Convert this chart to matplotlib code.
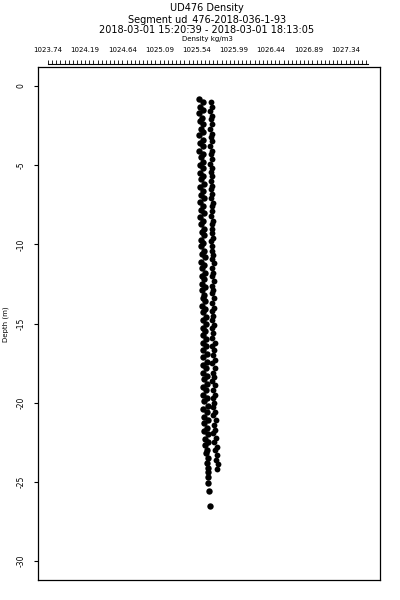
import matplotlib
matplotlib.use('Agg')
import matplotlib.pyplot as plt
import numpy as np

# left trace (dive)
depth_dn = [-0.8,-1.0,-1.3,-1.5,-1.7,-2.0,-2.2,-2.4,-2.7,-2.9,
            -3.1,-3.4,-3.6,-3.8,-4.1,-4.3,-4.5,-4.8,-5.0,-5.2,
            -5.5,-5.7,-5.9,-6.2,-6.4,-6.6,-6.9,-7.1,-7.3,-7.6,
            -7.8,-8.0,-8.3,-8.5,-8.7,-9.0,-9.2,-9.4,-9.7,-9.9,
            -10.1,-10.4,-10.6,-10.8,-11.1,-11.3,-11.5,-11.8,-12.0,-12.2,
            -12.5,-12.7,-12.9,-13.2,-13.4,-13.6,-13.9,-14.1,-14.3,-14.6,
            -14.8,-15.0,-15.3,-15.5,-15.7,-16.0,-16.2,-16.4,-16.7,-16.9,
            -17.1,-17.4,-17.6,-17.8,-18.1,-18.3,-18.5,-18.8,-19.0,-19.2,
            -19.5,-19.7,-19.9,-20.2,-20.4,-20.6,-20.9,-21.1,-21.3,-21.6,
            -21.8,-22.0,-22.3,-22.5,-22.7,-23.0,-23.2,-23.5,-23.8,-24.1,
            -24.4,-24.7,-25.1,-25.6,-26.5]
dens_dn = [1025.57,1025.61,1025.58,1025.62,1025.57,1025.60,1025.58,1025.62,1025.59,1025.61,
           1025.57,1025.61,1025.58,1025.62,1025.57,1025.61,1025.59,1025.62,1025.58,1025.61,
           1025.58,1025.62,1025.59,1025.63,1025.58,1025.62,1025.59,1025.63,1025.58,1025.62,
           1025.59,1025.63,1025.58,1025.62,1025.59,1025.63,1025.60,1025.63,1025.59,1025.62,
           1025.59,1025.63,1025.60,1025.64,1025.59,1025.63,1025.60,1025.64,1025.60,1025.63,
           1025.60,1025.64,1025.60,1025.63,1025.61,1025.64,1025.60,1025.64,1025.61,1025.65,
           1025.61,1025.65,1025.61,1025.64,1025.62,1025.65,1025.61,1025.65,1025.62,1025.66,
           1025.62,1025.66,1025.62,1025.65,1025.62,1025.66,1025.63,1025.66,1025.62,1025.65,
           1025.62,1025.66,1025.63,1025.67,1025.62,1025.66,1025.63,1025.67,1025.63,1025.66,
           1025.63,1025.67,1025.64,1025.67,1025.64,1025.66,1025.65,1025.68,1025.66,1025.67,
           1025.67,1025.68,1025.68,1025.69,1025.70]

# right trace (climb)
depth_up = [-1.0,-1.3,-1.6,-1.9,-2.1,-2.4,-2.7,-3.0,-3.2,-3.5,
            -3.8,-4.1,-4.3,-4.6,-4.9,-5.2,-5.4,-5.7,-6.0,-6.3,
            -6.5,-6.8,-7.1,-7.4,-7.6,-7.9,-8.2,-8.5,-8.7,-9.0,
            -9.3,-9.6,-9.8,-10.1,-10.4,-10.7,-10.9,-11.2,-11.5,-11.8,
            -12.0,-12.3,-12.6,-12.9,-13.1,-13.4,-13.7,-14.0,-14.2,-14.5,
            -14.8,-15.1,-15.3,-15.6,-15.9,-16.2,-16.4,-16.7,-17.0,-17.3,
            -17.5,-17.8,-18.1,-18.4,-18.6,-18.9,-19.2,-19.5,-19.7,-20.0,
            -20.3,-20.6,-20.8,-21.1,-21.4,-21.7,-21.9,-22.2,-22.5,-22.8,
            -23.0,-23.3,-23.6,-23.9,-24.2]
dens_up = [1025.71,1025.73,1025.70,1025.72,1025.71,1025.73,1025.70,1025.72,1025.71,1025.73,
           1025.70,1025.72,1025.71,1025.73,1025.70,1025.72,1025.71,1025.73,1025.71,1025.72,
           1025.71,1025.73,1025.71,1025.74,1025.72,1025.73,1025.71,1025.74,1025.72,1025.73,
           1025.72,1025.74,1025.71,1025.73,1025.72,1025.74,1025.72,1025.75,1025.73,1025.74,
           1025.72,1025.75,1025.73,1025.74,1025.72,1025.75,1025.73,1025.75,1025.73,1025.74,
           1025.73,1025.75,1025.72,1025.74,1025.73,1025.76,1025.73,1025.75,1025.74,1025.76,
           1025.73,1025.76,1025.74,1025.75,1025.73,1025.76,1025.74,1025.76,1025.74,1025.75,
           1025.74,1025.76,1025.74,1025.77,1025.75,1025.76,1025.74,1025.77,1025.75,1025.78,
           1025.76,1025.79,1025.77,1025.80,1025.79]

x_ticks = [1023.74,1024.19,1024.64,1025.09,1025.54,1025.99,1026.44,1026.89,1027.34]
y_ticks = [0,-5,-10,-15,-20,-25,-30]

plt.rcParams['font.family'] = ['DejaVu Sans']
fig = plt.figure(figsize=(4,6), dpi=100)
ax = fig.add_axes([0.095, 0.0333, 0.855, 0.855])

ax.plot(dens_dn, depth_dn, 'o', color='black', ms=4.6, mew=0)
ax.plot(dens_up, depth_up, 'o', color='black', ms=4.2, mew=0)

ax.set_xlim(1023.619, 1027.757)
ax.set_ylim(-31.2, 1.2)
ax.set_xticks([])
ax.set_yticks(y_ticks)
ax.set_yticklabels([str(t) for t in y_ticks], rotation=90, va='center')
ax.tick_params(axis='y', length=3, width=0.8, pad=6, labelsize=5.5)
for s in ax.spines.values():
    s.set_linewidth(0.9)

top = ax.secondary_xaxis('top')
top.set_xticks(x_ticks)
top.set_xticklabels(['%.2f' % t for t in x_ticks])
top.set_xticks(np.arange(1023.74, 1027.62, 0.05), minor=True)
top.tick_params(which='both', length=3, width=0.6, pad=5, labelsize=5)
top.spines['top'].set_bounds(1023.74, 1027.61)
top.spines['top'].set_position(('outward', 2))
top.spines['top'].set_linewidth(0.8)

fig.text(0.5175, 0.987, 'UD476 Density', ha='center', va='center', fontsize=7)
fig.text(0.5175, 0.968, 'Segment ud_476-2018-036-1-93', ha='center', va='center', fontsize=7)
fig.text(0.5175, 0.950, '2018-03-01 15:20:39 - 2018-03-01 18:13:05', ha='center', va='center', fontsize=7)
fig.text(0.5175, 0.935, 'Density kg/m3', ha='center', va='center', fontsize=5)
fig.text(0.015, 0.46, 'Depth (m)', rotation=90, ha='center', va='center', fontsize=5)

fig.savefig('out.png', dpi=100)
